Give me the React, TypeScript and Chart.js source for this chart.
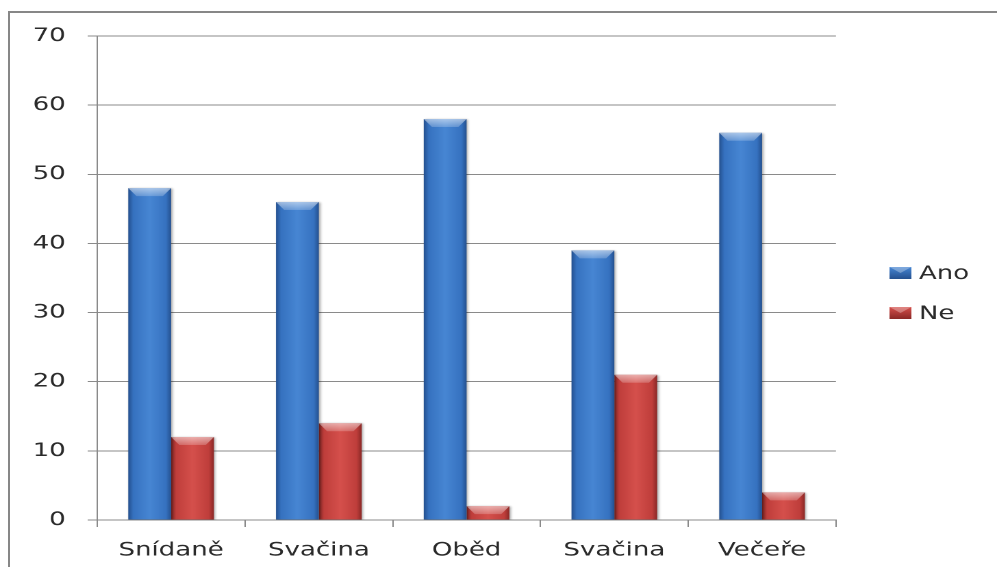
import React, { useEffect, useRef } from 'react';
import { Chart, registerables } from 'chart.js';

Chart.register(...registerables);

// ---- data ----
const categories = ['Snídaně', 'Svačina', 'Oběd', 'Svačina', 'Večeře'];
const seriesNames = ['Ano', 'Ne'];
const anoValues = [48, 46, 58, 39, 56];
const neValues = [12, 14, 2, 21, 4];
const yMin = 0;
const yMax = 70;
const yStep = 10;

// ---- look ----
const LOGICAL_W = 728;
const H = 567;
const SX = 997 / LOGICAL_W;
const FONT = '"DejaVu Sans", Verdana, sans-serif';
const TEXT = '#2a2a2a';
const GRID = '#8a8a8a';

const palettes = [
  { dark: '#24508f', mid: '#3672c0', light: '#4786d3', base: '#3a75c4' },
  { dark: '#8a2826', mid: '#bf3e3b', light: '#d5504c', base: '#c0504d' },
];

const barStylePlugin = {
  id: 'barStyle',
  beforeDatasetsDraw(chart: any) {
    const ctx = chart.ctx;
    chart.data.datasets.forEach((_ds: any, di: number) => {
      const meta = chart.getDatasetMeta(di);
      const p = palettes[di];
      meta.data.forEach((el: any) => {
        const { x, width } = el.getProps(['x', 'width'], true);
        const g = ctx.createLinearGradient(x - width / 2, 0, x + width / 2, 0);
        g.addColorStop(0, p.dark);
        g.addColorStop(0.12, p.mid);
        g.addColorStop(0.5, p.light);
        g.addColorStop(0.88, p.mid);
        g.addColorStop(1, p.dark);
        el.options = { ...el.options, backgroundColor: g, borderWidth: 0 };
      });
    });
  },
  beforeDatasetDraw(chart: any) {
    const ctx = chart.ctx;
    ctx.save();
    ctx.shadowColor = 'rgba(0,0,0,0.35)';
    ctx.shadowBlur = 4;
    ctx.shadowOffsetX = 2;
    ctx.shadowOffsetY = 1;
  },
  afterDatasetDraw(chart: any, args: any) {
    const ctx = chart.ctx;
    ctx.restore();
    const meta = chart.getDatasetMeta(args.index);
    meta.data.forEach((el: any) => {
      const { x, y, base, width } = el.getProps(['x', 'y', 'base', 'width'], true);
      const h = Math.min(8, Math.abs(base - y));
      const l = x - width / 2;
      const r = x + width / 2;
      const d = Math.min(6, width / 4);
      ctx.save();
      const g = ctx.createLinearGradient(0, y, 0, y + h);
      g.addColorStop(0, 'rgba(255,255,255,0.55)');
      g.addColorStop(1, 'rgba(255,255,255,0.2)');
      ctx.fillStyle = g;
      ctx.beginPath();
      ctx.moveTo(l, y);
      ctx.lineTo(r, y);
      ctx.lineTo(r - d, y + h);
      ctx.lineTo(l + d, y + h);
      ctx.closePath();
      ctx.fill();
      ctx.restore();
    });
  },
};

const legendPlugin = {
  id: 'customLegend',
  afterDraw(chart: any) {
    const ctx = chart.ctx;
    ctx.save();
    ctx.font = `19px ${FONT}`;
    ctx.textBaseline = 'middle';
    ctx.textAlign = 'left';
    chart.data.datasets.forEach((ds: any, i: number) => {
      const p = palettes[i];
      const bx = 649.5;
      const by = 267 + i * 40;
      const bw = 16;
      const bh = 12;
      const g = ctx.createLinearGradient(0, by, 0, by + bh);
      g.addColorStop(0, p.light);
      g.addColorStop(1, p.dark);
      ctx.fillStyle = g;
      ctx.fillRect(bx, by, bw, bh);
      ctx.fillStyle = 'rgba(255,255,255,0.3)';
      ctx.beginPath();
      ctx.moveTo(bx, by);
      ctx.lineTo(bx + bw, by);
      ctx.lineTo(bx + bw / 2, by + bh / 2);
      ctx.closePath();
      ctx.fill();
      ctx.fillStyle = TEXT;
      ctx.fillText(ds.label, 671, by + 7);
    });
    ctx.restore();
  },
};

export default function App() {
  const ref = useRef<HTMLCanvasElement | null>(null);

  useEffect(() => {
    if (!ref.current) return;
    const chart = new Chart(ref.current, {
      type: 'bar',
      data: {
        labels: categories,
        datasets: [
          { label: seriesNames[0], data: anoValues, backgroundColor: palettes[0].base },
          { label: seriesNames[1], data: neValues, backgroundColor: palettes[1].base },
        ],
      },
      options: {
        responsive: false,
        devicePixelRatio: 2,
        animation: false,
        layout: { padding: { left: 0, top: 36, right: LOGICAL_W - 610.4, bottom: 0 } },
        datasets: { bar: { categoryPercentage: 0.58, barPercentage: 1 } },
        plugins: { legend: { display: false }, tooltip: { enabled: false } },
        scales: {
          x: {
            grid: {
              display: true,
              drawOnChartArea: false,
              drawTicks: true,
              tickLength: 7,
              color: GRID,
              offset: true,
            },
            border: { color: GRID, width: 1 },
            ticks: { font: { family: FONT, size: 19 }, color: TEXT, padding: 12 },
            afterFit: (s: any) => {
              s.height = 47;
            },
          },
          y: {
            min: yMin,
            max: yMax,
            ticks: { stepSize: yStep, font: { family: FONT, size: 19 }, color: TEXT, padding: 16 },
            grid: { color: GRID, tickLength: 7 },
            border: { color: GRID, width: 1 },
            afterFit: (s: any) => {
              s.width = 71;
            },
          },
        },
      },
      plugins: [barStylePlugin, legendPlugin],
    } as any);
    return () => chart.destroy();
  }, []);

  return (
    <div
      style={{
        position: 'fixed',
        left: 0,
        top: 0,
        width: 997,
        height: 567,
        overflow: 'hidden',
        background: '#ffffff',
      }}
    >
      <canvas
        ref={ref}
        width={LOGICAL_W}
        height={H}
        style={{
          display: 'block',
          position: 'absolute',
          left: 0,
          top: 0,
          transform: `scaleX(${SX})`,
          transformOrigin: '0 0',
        }}
      />
      <div
        style={{
          position: 'absolute',
          left: 8,
          top: 11,
          width: 995,
          height: 600,
          borderTop: '2px solid #878787',
          borderLeft: '2px solid #878787',
          boxSizing: 'border-box',
          pointerEvents: 'none',
        }}
      />
    </div>
  );
}
